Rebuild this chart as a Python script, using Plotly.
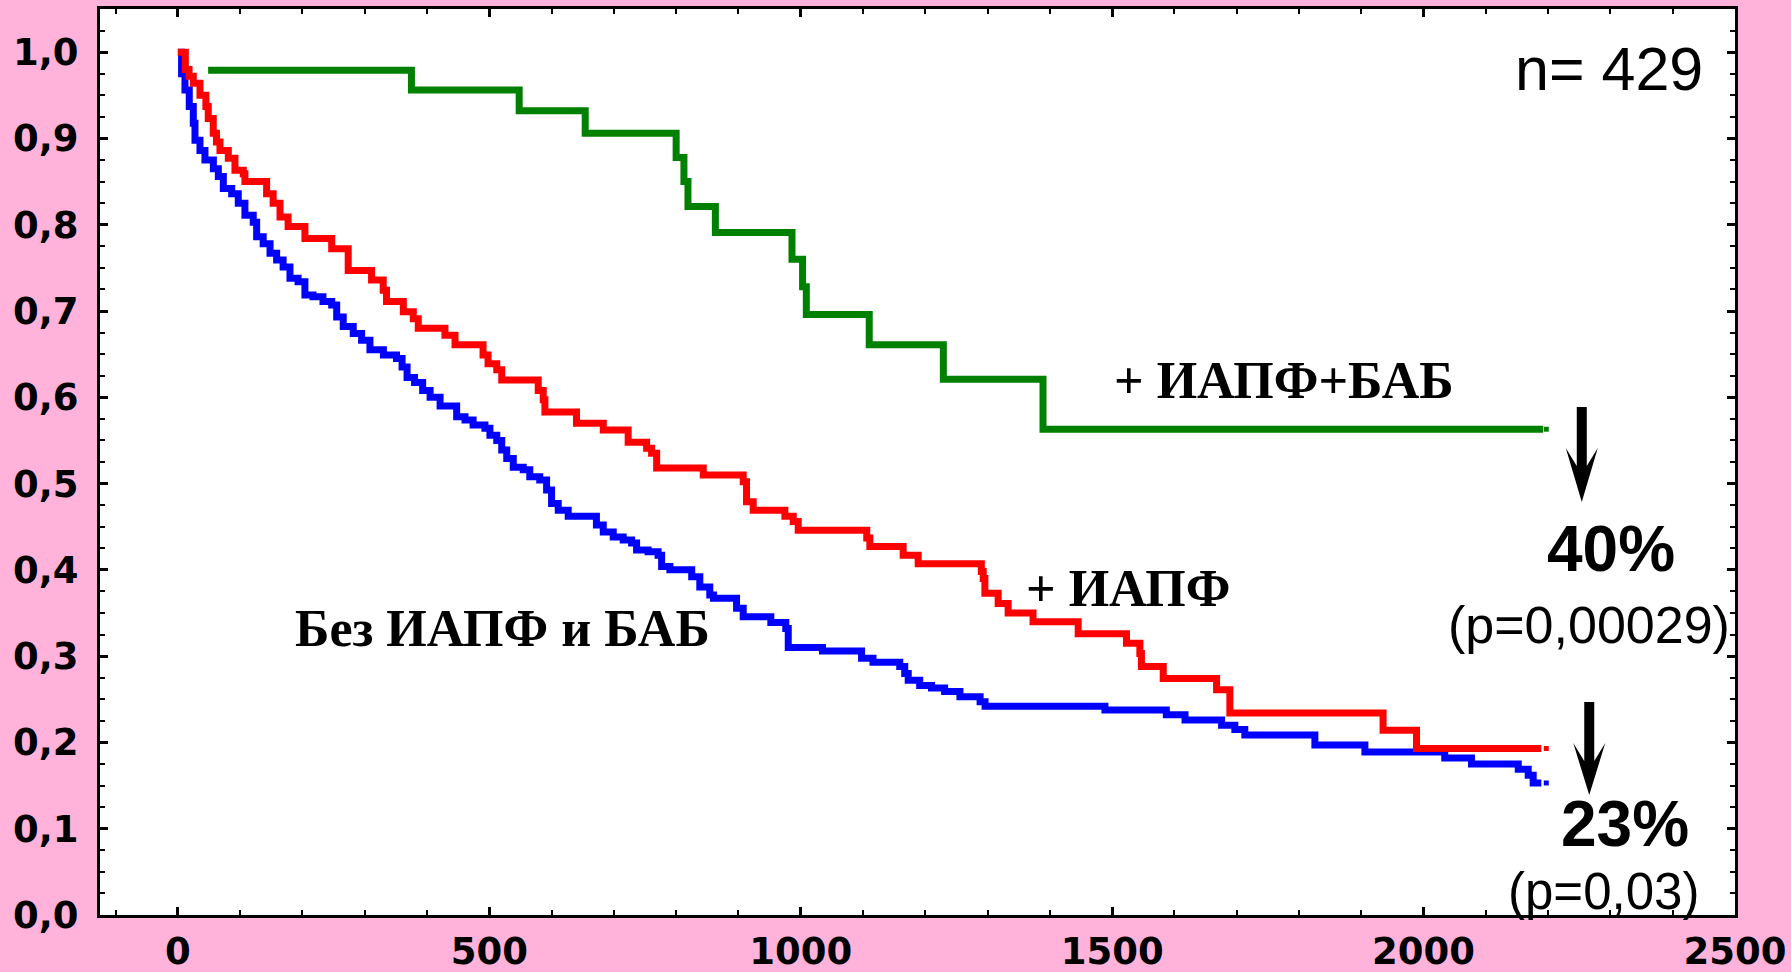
import plotly.graph_objects as go

# ---- Kaplan-Meier curves (time in days, survival fraction) ----
blue_t = [0, 6, 11.4, 18.3, 24.8, 27.5, 35.5, 43.5, 57, 65, 73, 86.4, 97, 107.7, 121, 126.5, 137, 148,
          158.6, 169, 180, 193, 204, 217, 233, 247, 255, 265.5, 281.6, 295, 308.4, 330, 351, 360, 368,
          380, 393, 405, 421, 447.6, 461, 474, 493, 501, 512, 520, 528, 538.5, 554.5, 565, 581, 592,
          600, 610.7, 626.7, 672, 683, 699, 715, 728.5, 736.5, 755, 771, 776.7, 790, 825, 838, 854,
          860, 897, 907.7, 952, 976, 980, 1035, 1097.7, 1116, 1159, 1167, 1172.6, 1191, 1210, 1231,
          1255.6, 1288, 1296, 1488.4, 1587, 1617, 1675.7, 1697, 1713, 1825.5, 1905.8, 2034, 2077,
          2152, 2168, 2176, 2189]
blue_s = [1.0, 0.975, 0.956, 0.937, 0.9175, 0.898, 0.886, 0.875, 0.865, 0.856, 0.842, 0.836, 0.825,
          0.811, 0.803, 0.786, 0.778, 0.767, 0.759, 0.751, 0.738, 0.734, 0.7185, 0.7166, 0.711, 0.707,
          0.693, 0.682, 0.674, 0.666, 0.655, 0.649, 0.645, 0.635, 0.623, 0.617, 0.608, 0.600, 0.590,
          0.5775, 0.5736, 0.568, 0.564, 0.556, 0.550, 0.539, 0.529, 0.519, 0.516, 0.508, 0.504, 0.4925,
          0.477, 0.469, 0.462, 0.452, 0.444, 0.438, 0.4346, 0.431, 0.423, 0.421, 0.417, 0.404, 0.400,
          0.392, 0.380, 0.371, 0.367, 0.3554, 0.3457, 0.339, 0.332, 0.310, 0.306, 0.2975, 0.293, 0.288,
          0.280, 0.272, 0.266, 0.263, 0.259, 0.253, 0.247, 0.242, 0.2376, 0.232, 0.226, 0.220, 0.215,
          0.2086, 0.197, 0.189, 0.182, 0.175, 0.169, 0.162, 0.153, 0.153]

red_t = [0, 12, 18, 24.8, 35.5, 45, 48.8, 56.8, 62, 67.6, 81, 91.7, 105, 107.7, 142.5, 153, 164, 177,
         204, 247, 273.5, 311, 329.7, 335, 362, 378, 386, 428.8, 445, 490, 498, 512, 520, 578.6, 586.6,
         589.3, 640, 683, 723, 752.6, 760.6, 768.7, 843.5, 907.7, 913, 923.7, 974.6, 988, 996, 1106,
         1111, 1164.5, 1188.6, 1290, 1293, 1295.7, 1317, 1333, 1373, 1445.5, 1523, 1544.5, 1547, 1582,
         1667.7, 1689, 1935, 1988.7, 2189]
red_s = [1.0, 0.98, 0.972, 0.964, 0.950, 0.937, 0.923, 0.906, 0.896, 0.886, 0.877, 0.863, 0.859, 0.850,
         0.836, 0.825, 0.809, 0.798, 0.784, 0.772, 0.747, 0.736, 0.724, 0.711, 0.699, 0.691, 0.680, 0.672,
         0.661, 0.649, 0.639, 0.632, 0.620, 0.608, 0.597, 0.583, 0.570, 0.562, 0.548, 0.541, 0.535, 0.518,
         0.510, 0.502, 0.479, 0.469, 0.462, 0.456, 0.446, 0.437, 0.427, 0.417, 0.407, 0.398, 0.390, 0.373,
         0.361, 0.350, 0.340, 0.326, 0.315, 0.303, 0.288, 0.274, 0.261, 0.234, 0.214, 0.193, 0.193]

green_t = [48.6, 375, 548, 654, 800, 812.5, 819, 863, 986, 1003, 1009, 1110, 1229, 1389, 2192]
green_s = [0.979, 0.956, 0.932, 0.906, 0.878, 0.850, 0.821, 0.791, 0.760, 0.728, 0.696, 0.661, 0.621,
           0.563, 0.563]

# last censored observations
censor_t = [2197, 2197, 2197]
censor_s = [0.153, 0.193, 0.563]
censor_colors = ["#0000FF", "#FF0000", "#008000"]

# ---- axis ticks ----
x_tick_vals = [0, 500, 1000, 1500, 2000, 2500]
x_tick_text = ["0", "500", "1000", "1500", "2000", "2500"]
y_tick_vals = [0.0, 0.1, 0.2, 0.3, 0.4, 0.5, 0.6, 0.7, 0.8, 0.9, 1.0]
y_tick_text = ["0,0", "0,1", "0,2", "0,3", "0,4", "0,5", "0,6", "0,7", "0,8", "0,9", "1,0"]

PINK = "#FFB3DA"
SANS = "Arial, Liberation Sans, sans-serif"
TICKFONT = "DejaVu Sans, Arial, sans-serif"
SERIF = "Times New Roman, Liberation Serif, serif"

fig = go.Figure()
for t, s, c in [(blue_t, blue_s, "#0000FF"), (red_t, red_s, "#FF0000"), (green_t, green_s, "#008000")]:
    fig.add_trace(go.Scatter(x=t, y=s, mode="lines", line=dict(color=c, width=7, shape="hv"),
                             showlegend=False, hoverinfo="skip"))
fig.add_trace(go.Scatter(x=censor_t, y=censor_s, mode="markers",
                         marker=dict(symbol="square", size=5, color=censor_colors, line=dict(width=0)),
                         showlegend=False, hoverinfo="skip"))

def ann(text, x, y, size, family, bold, xanchor="center"):
    fig.add_annotation(x=x, y=y, xref="x", yref="y", text=text, showarrow=False,
                       xanchor=xanchor, yanchor="middle",
                       font=dict(family=family, size=size, color="black",
                                 weight="bold" if bold else "normal"))

ann("n= 429", 2451.6, 0.981, 61, SANS, False, xanchor="right")
ann("+ ИАПФ+БАБ", 1776.6, 0.620, 52, SERIF, True)
ann("+ ИАПФ", 1526, 0.378, 52, SERIF, True)
ann("Без ИАПФ и БАБ", 521, 0.3326, 52, SERIF, True)
ann("40%", 2301.5, 0.424, 64, SANS, True)
ann("(p=0,00029)", 2265.4, 0.336, 52, SANS, False)
ann("23%", 2324, 0.106, 64, SANS, True)
ann("(p=0,03)", 2289.5, 0.0278, 51, SANS, False)

# arrows (pixel-sized polygons anchored at the tip)
def arrow(xa, ya, length, barb, notch, half_head, half_shaft):
    path = (f"M {-half_shaft},{length} L {half_shaft},{length} L {half_shaft},{notch} "
            f"L {half_head},{barb} L 0,0 L {-half_head},{barb} L {-half_shaft},{notch} Z")
    fig.add_shape(type="path", xref="x", yref="y", xsizemode="pixel", ysizemode="pixel",
                  xanchor=xa, yanchor=ya, path=path, fillcolor="black", line=dict(width=0))

arrow(2254, 0.4786, 95, 54, 36, 16, 5)
arrow(2266, 0.139, 93, 52, 34, 16, 5)

axis_common = dict(showline=True, linecolor="black", linewidth=3, mirror="ticks", showgrid=False,
                   zeroline=False, ticks="inside", ticklen=8, tickwidth=3, tickcolor="black",
                   automargin=False,
                   tickfont=dict(family=TICKFONT, size=37, color="black", weight="bold"))

fig.update_xaxes(range=[-125, 2500], tickmode="array", tickvals=x_tick_vals, ticktext=x_tick_text,
                 minor=dict(dtick=100, tick0=0, ticks="inside", ticklen=5, tickwidth=2, tickcolor="black"),
                 ticklabelstandoff=2, **axis_common)
fig.update_yaxes(range=[0, 1.05], tickmode="array", tickvals=y_tick_vals, ticktext=y_tick_text,
                 minor=dict(dtick=0.025, tick0=0, ticks="inside", ticklen=5, tickwidth=2, tickcolor="black"),
                 ticklabelstandoff=11, **axis_common)

fig.update_layout(width=1791, height=972, margin=dict(l=100, r=56, t=9, b=57, pad=0),
                  paper_bgcolor=PINK, plot_bgcolor="white", showlegend=False)

fig.write_html("out.html")
